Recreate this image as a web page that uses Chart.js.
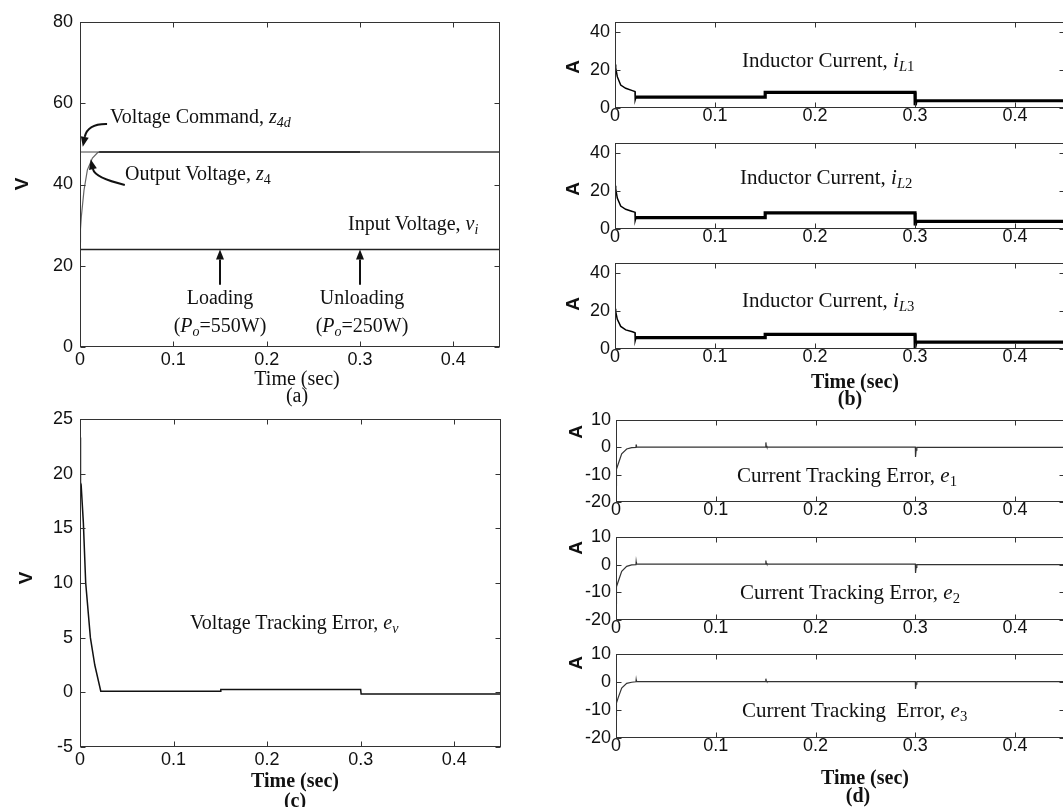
<!DOCTYPE html>
<html><head><meta charset="utf-8">
<script src="https://cdn.jsdelivr.net/npm/chart.js@4.4.1/dist/chart.umd.min.js"></script>
<style>
html,body{margin:0;padding:0;background:#fff;width:1063px;height:807px;overflow:hidden;position:relative}
canvas{position:absolute}
.t{position:absolute;font-family:"Liberation Serif","Times New Roman",serif;color:#111;white-space:nowrap;line-height:1;font-size:20px}
.c{transform:translate(-50%,-50%)}
.l{transform:translateY(-50%)}
.b{font-weight:bold}
.big{font-size:21px}
.ax{position:absolute;font-family:"Liberation Sans",Arial,sans-serif;font-weight:bold;font-size:19px;color:#111;line-height:1;transform:translate(-50%,-50%) rotate(-90deg)}
.s{font-size:70%;position:relative;top:0.3em}
i{font-style:italic}
</style>
</head><body>
<canvas id="ca"></canvas>
<canvas id="cb1"></canvas><canvas id="cb2"></canvas><canvas id="cb3"></canvas>
<canvas id="cc"></canvas>
<canvas id="cd1"></canvas><canvas id="cd2"></canvas><canvas id="cd3"></canvas>

<!-- (a) -->
<div class="ax" style="left:21px;top:184px">V</div>
<div class="t l" style="left:110px;top:116px">Voltage Command, <i>z</i><span class="s"><i>4d</i></span></div>
<div class="t l" style="left:125px;top:173px">Output Voltage, <i>z</i><span class="s">4</span></div>
<div class="t l" style="left:348px;top:223px">Input Voltage, <i>v</i><span class="s"><i>i</i></span></div>
<div class="t c" style="left:220px;top:297px">Loading</div>
<div class="t c" style="left:220px;top:325px">(<i>P</i><span class="s"><i>o</i></span>=550W)</div>
<div class="t c" style="left:362px;top:297px">Unloading</div>
<div class="t c" style="left:362px;top:325px">(<i>P</i><span class="s"><i>o</i></span>=250W)</div>
<div class="t c" style="left:297px;top:378px">Time (sec)</div>
<div class="t c" style="left:297px;top:395px">(a)</div>

<!-- (b) -->
<div class="ax" style="left:572px;top:67px">A</div>
<div class="ax" style="left:572px;top:189px">A</div>
<div class="ax" style="left:572px;top:304px">A</div>
<div class="t l big" style="left:742px;top:60px">Inductor Current, <i>i</i><span class="s"><i>L</i>1</span></div>
<div class="t l big" style="left:740px;top:177px">Inductor Current, <i>i</i><span class="s"><i>L</i>2</span></div>
<div class="t l big" style="left:742px;top:300px">Inductor Current, <i>i</i><span class="s"><i>L</i>3</span></div>
<div class="t c b" style="left:855px;top:381px">Time (sec)</div>
<div class="t c b" style="left:850px;top:398px">(b)</div>

<!-- (c) -->
<div class="ax" style="left:25px;top:578px">V</div>
<div class="t l" style="left:190px;top:622px">Voltage Tracking Error, <i>e</i><span class="s"><i>v</i></span></div>
<div class="t c b" style="left:295px;top:780px">Time (sec)</div>
<div class="t c b" style="left:295px;top:800px">(c)</div>

<!-- (d) -->
<div class="ax" style="left:575px;top:432px">A</div>
<div class="ax" style="left:575px;top:548px">A</div>
<div class="ax" style="left:575px;top:663px">A</div>
<div class="t l big" style="left:737px;top:475px">Current Tracking Error, <i>e</i><span class="s">1</span></div>
<div class="t l big" style="left:740px;top:592px">Current Tracking Error, <i>e</i><span class="s">2</span></div>
<div class="t l big" style="left:742px;top:710px">Current Tracking&nbsp; Error, <i>e</i><span class="s">3</span></div>
<div class="t c b" style="left:865px;top:777px">Time (sec)</div>
<div class="t c b" style="left:858px;top:795px">(d)</div>

<script>
// ---------- tick values / labels ----------
const X_TICKS = [0, 0.1, 0.2, 0.3, 0.4];
const X_TICK_LABELS = ['0', '0.1', '0.2', '0.3', '0.4'];
const A_Y_TICKS = [0, 20, 40, 60, 80];
const B_Y_TICKS = [0, 20, 40];
const C_Y_TICKS = [-5, 0, 5, 10, 15, 20, 25];
const D_Y_TICKS = [-20, -10, 0, 10];

// ---------- (a) voltages ----------
const aCommandTime = [0, 0.45];
const aCommandVolt = [48, 48];
const aInputTime = [0, 0.45];
const aInputVolt = [24, 24];
const aOutputTime = [0, 0.0005, 0.0014, 0.0043, 0.0079, 0.0133, 0.0187, 0.0205, 0.15, 0.3, 0.45];
const aOutputVolt = [25.9, 29, 32, 38.6, 43.6, 46.5, 47.8, 48, 48, 48, 48];
// arrows in (a): [tailX, tailY, ctrlX, ctrlY, tipX, tipY]
const aArrowCommand = [0.029, 54.9, 0.008, 55.0, 0.003, 49.3];
const aArrowOutput = [0.048, 39.9, 0.016, 41.6, 0.0115, 46.2];
const aArrowLoading = [0.15, 15.3, 0.15, 20, 0.15, 24];
const aArrowUnloading = [0.3, 15.3, 0.3, 20, 0.3, 24];

// ---------- (b) inductor currents ----------
const bTime = [0, 0.0007, 0.0023, 0.0057, 0.0107, 0.0174, 0.0200, 0.0202, 0.0210, 0.15, 0.1502, 0.3, 0.3002, 0.3010, 0.45];
const bCurrentL1 = [22.7, 21, 16.4, 12, 10.3, 9.1, 8.6, 4.3, 5.7, 5.7, 8.2, 8.2, 1.5, 3.8, 3.8];
const bCurrentL2 = [22.6, 21, 16.2, 12, 10.3, 9.2, 8.7, 4.5, 6.0, 6.0, 8.4, 8.4, 1.8, 4.0, 4.0];
const bCurrentL3 = [21.1, 19.5, 15.5, 11.8, 10.0, 9.0, 8.5, 4.4, 6.0, 6.0, 7.7, 7.7, 1.8, 3.6, 3.6];

// ---------- (c) voltage tracking error ----------
const cTime = [0, 0.0003, 0.0007, 0.0012, 0.0036, 0.0061, 0.0111, 0.0158, 0.0222, 0.15, 0.1505, 0.3, 0.3005, 0.45];
const cError = [23.3, 23, 19.2, 19, 15.5, 10, 5, 2.5, 0.1, 0.1, 0.25, 0.25, -0.15, -0.15];

// ---------- (d) current tracking errors ----------
const dTime = [0, 0.0002, 0.0007, 0.0023, 0.0057, 0.0107, 0.0157, 0.0200, 0.0202, 0.0205, 0.15, 0.1502, 0.1506, 0.1512, 0.3, 0.3002, 0.3008, 0.3015, 0.45];
const dError1 = [-14, -10, -8, -6, -2.4, -0.6, -0.1, 0, 1, 0.1, 0.1, 1.8, 0.6, 0.1, 0.1, -3.5, -1, 0, 0];
const dError2 = [-14, -10, -8, -6, -2.4, -0.6, -0.1, 0, 1, 0.2, 0.2, 1.5, 0.6, 0.2, 0.2, -3, -1, 0, 0];
const dError3 = [-12, -9, -7.5, -5.5, -2.2, -0.5, -0.1, 0.1, 0.8, 0.1, 0.1, 1.2, 0.4, 0.1, 0.1, -2.5, -0.8, 0.1, 0.1];

// ---------- helpers ----------
const zip = (t, v) => t.map((x, i) => ({x, y: v[i]}));
const WY = 50, HX = 30, PT = 24, PR = 12;
const TICK_FONT = {family: '"Liberation Sans", Arial, sans-serif', size: 18};

const boxPlugin = {
  id: 'box',
  afterDraw(chart) {
    const {ctx, chartArea: a, scales: {x, y}} = chart;
    const L = Math.round(a.left) + 0.5, R = Math.round(a.right) - 0.5;
    const T = Math.round(a.top) + 0.5, B = Math.round(a.bottom) - 0.5;
    ctx.save();
    ctx.strokeStyle = '#333';
    ctx.lineWidth = 1;
    ctx.strokeRect(L, T, R - L, B - T);
    ctx.beginPath();
    x.ticks.forEach(t => {
      const px = Math.round(x.getPixelForValue(t.value)) + 0.5;
      ctx.moveTo(px, B); ctx.lineTo(px, B - 5);
      ctx.moveTo(px, T); ctx.lineTo(px, T + 5);
    });
    y.ticks.forEach(t => {
      const py = Math.round(y.getPixelForValue(t.value)) + 0.5;
      ctx.moveTo(L, py); ctx.lineTo(L + 5, py);
      ctx.moveTo(R, py); ctx.lineTo(R - 5, py);
    });
    ctx.stroke();
    ctx.restore();
  }
};

function arrowPlugin(arrows) {
  return {
    id: 'arrows',
    afterDraw(chart) {
      const {ctx, scales: {x, y}} = chart;
      ctx.save();
      ctx.strokeStyle = '#111';
      ctx.fillStyle = '#111';
      ctx.lineWidth = 2;
      arrows.forEach(a => {
        const x0 = x.getPixelForValue(a[0]), y0 = y.getPixelForValue(a[1]);
        const cx = x.getPixelForValue(a[2]), cy = y.getPixelForValue(a[3]);
        const x1 = x.getPixelForValue(a[4]), y1 = y.getPixelForValue(a[5]);
        const ang = Math.atan2(y1 - cy, x1 - cx);
        const hl = 10, hw = 4;
        const bx = x1 - hl * Math.cos(ang), by = y1 - hl * Math.sin(ang);
        ctx.beginPath();
        ctx.moveTo(x0, y0);
        ctx.quadraticCurveTo(cx, cy, bx, by);
        ctx.stroke();
        ctx.beginPath();
        ctx.moveTo(x1, y1);
        ctx.lineTo(bx + hw * Math.sin(ang), by - hw * Math.cos(ang));
        ctx.lineTo(bx - hw * Math.sin(ang), by + hw * Math.cos(ang));
        ctx.closePath();
        ctx.fill();
      });
      ctx.restore();
    }
  };
}

function makeChart(id, rect, yMin, yMax, yTicks, datasets, xPad, yPad, extraPlugins) {
  const cv = document.getElementById(id);
  const w = Math.round(rect.right - rect.left + WY + PR);
  const h = Math.round(rect.bottom - rect.top + PT + HX);
  cv.width = w; cv.height = h;
  cv.style.width = w + 'px'; cv.style.height = h + 'px';
  cv.style.left = (rect.left - WY) + 'px';
  cv.style.top = (rect.top - PT) + 'px';
  return new Chart(cv, {
    type: 'line',
    data: {datasets},
    options: {
      responsive: false,
      animation: false,
      devicePixelRatio: 1,
      events: [],
      layout: {padding: {top: PT, right: PR, left: 0, bottom: 0}},
      plugins: {legend: {display: false}, tooltip: {enabled: false}, title: {display: false}},
      elements: {point: {radius: 0}, line: {tension: 0}},
      scales: {
        x: {
          type: 'linear', min: 0, max: 0.45,
          grid: {display: false, drawTicks: false},
          border: {display: false},
          ticks: {font: TICK_FONT, color: '#111', padding: xPad, maxRotation: 0, autoSkip: false,
                  callback: (v, i) => X_TICK_LABELS[i]},
          afterBuildTicks: s => { s.ticks = X_TICKS.map(v => ({value: v})); },
          afterFit: s => { s.height = HX; }
        },
        y: {
          type: 'linear', min: yMin, max: yMax,
          grid: {display: false, drawTicks: false},
          border: {display: false},
          ticks: {font: TICK_FONT, color: '#111', padding: yPad, autoSkip: false,
                  callback: (v) => String(v)},
          afterBuildTicks: s => { s.ticks = yTicks.map(v => ({value: v})); },
          afterFit: s => { s.width = WY; }
        }
      }
    },
    plugins: [boxPlugin].concat(extraPlugins || [])
  });
}

const bandWidth = (xs, thin, thick) => ctx => (ctx.p0.parsed.x >= xs ? thick : thin);

// (a)
makeChart('ca', {left: 80, top: 22, right: 500, bottom: 347}, 0, 80, A_Y_TICKS, [
  {data: zip(aCommandTime, aCommandVolt), borderColor: '#444', borderWidth: 1},
  {data: zip(aInputTime, aInputVolt), borderColor: '#222', borderWidth: 1.3},
  {data: zip(aOutputTime, aOutputVolt), borderColor: '#222', borderWidth: 1.2,
   segment: {borderWidth: ctx => (ctx.p0.parsed.x >= 0.0205 && ctx.p0.parsed.x < 0.3 ? 2 : 1.2),
             borderColor: ctx => (ctx.p0.parsed.x < 0.0205 ? '#666' : '#222')}}
], 2, 7, [arrowPlugin([aArrowCommand, aArrowOutput, aArrowLoading, aArrowUnloading])]);

// (b)
const bRects = [
  {left: 615, top: 22, right: 1065, bottom: 108},
  {left: 615, top: 143, right: 1065, bottom: 229},
  {left: 615, top: 263, right: 1065, bottom: 349}
];
[bCurrentL1, bCurrentL2, bCurrentL3].forEach((cur, k) => {
  makeChart('cb' + (k + 1), bRects[k], 0, 45, B_Y_TICKS, [
    {data: zip(bTime, cur), borderColor: '#000', borderWidth: 1.5,
     segment: {borderWidth: bandWidth(0.0205, 1.5, 3.2)}}
  ], -3, 5);
});

// (c)
makeChart('cc', {left: 80, top: 419, right: 501, bottom: 747}, -5, 25, C_Y_TICKS, [
  {data: zip(cTime, cError), borderColor: '#111', borderWidth: 1.5}
], 2, 7);

// (d)
const dRects = [
  {left: 616, top: 420, right: 1065, bottom: 502},
  {left: 616, top: 537, right: 1065, bottom: 620},
  {left: 616, top: 654, right: 1065, bottom: 738}
];
[dError1, dError2, dError3].forEach((err, k) => {
  makeChart('cd' + (k + 1), dRects[k], -20, 10, D_Y_TICKS, [
    {data: zip(dTime, err), borderColor: '#333', borderWidth: 1.2}
  ], -3, 5);
});
</script>
</body></html>
